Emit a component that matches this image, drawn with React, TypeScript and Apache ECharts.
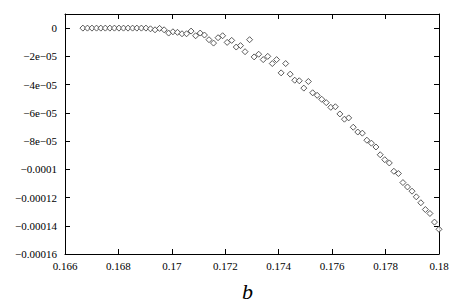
import React, { useEffect, useRef } from "react";
import * as echarts from "echarts";

const bValues: number[] = [
  0.16667, 0.16684, 0.16701, 0.16718, 0.16734, 0.16751, 0.16768, 0.16785, 0.16802, 0.16819,
  0.16836, 0.16853, 0.16869, 0.16886, 0.16903, 0.1692, 0.16937, 0.16954, 0.16971, 0.16988,
  0.17004, 0.17021, 0.17038, 0.17055, 0.17072, 0.17089, 0.17106, 0.17122, 0.17139, 0.17156,
  0.17173, 0.1719, 0.17207, 0.17224, 0.17241, 0.17257, 0.17274, 0.17291, 0.17308, 0.17325,
  0.17342, 0.17359, 0.17376, 0.17392, 0.17409, 0.17426, 0.17443, 0.1746, 0.17477, 0.17494,
  0.17511, 0.17527, 0.17544, 0.17561, 0.17578, 0.17595, 0.17612, 0.17629, 0.17646, 0.17662,
  0.17679, 0.17696, 0.17713, 0.1773, 0.17747, 0.17764, 0.1778, 0.17797, 0.17814, 0.17831,
  0.17848, 0.17865, 0.17882, 0.17899, 0.17915, 0.17932, 0.17949, 0.17966, 0.17983, 0.18,
];

// values in units of 1e-6
const yMicro: number[] = [
  0, 0, 0, 0, 0, 0, 0, 0, 0, 0,
  0, 0, 0, 0, 0, -0.5, -1.2, -0.2, -1.2, -3.5,
  -2.6, -3.0, -4.0, -4.0, -2.1, -5.4, -3.5, -4.9, -8.2, -10.6,
  -6.8, -5.4, -10.1, -8.7, -13.4, -12.4, -16.7, -8.2, -20.4, -18.5,
  -22.3, -20.0, -25.1, -22.3, -31.7, -25.1, -32.6, -36.9, -37.3, -42.5,
  -37.8, -45.8, -47.6, -50.4, -52.8, -56.1, -55.7, -60.8, -64.5, -63.6,
  -70.2, -73.6, -74.4, -79.4, -81.5, -84.2, -89.7, -93.2, -95.5, -101.4,
  -103.0, -109.4, -112.5, -115.5, -119.5, -123.7, -128.5, -131.3, -137.4, -142.5,
];

const xTickLabels: string[] = ["0.166", "0.168", "0.17", "0.172", "0.174", "0.176", "0.178", "0.18"];
const yTickLabels: string[] = [
  "−0.00016", "−0.00014", "−0.00012", "−0.0001", "−8e−05", "−6e−05", "−4e−05", "−2e−05", "0",
];

const X_MIN = 0.166;
const X_MAX = 0.18;
const X_STEP = 0.002;
const Y_MIN = -0.00016;
const Y_MAX = 0.00001;
const Y_STEP = 0.00002;

const FONT = "Liberation Serif";

export default function App() {
  const ref = useRef<HTMLDivElement>(null);

  useEffect(() => {
    if (!ref.current) return;
    const chart = echarts.init(ref.current, undefined, { renderer: "svg" });
    const data = bValues.map((b, i) => [b, yMicro[i] * 1e-6]);

    const xLabel = (v: number) => {
      const k = Math.round((v - X_MIN) / X_STEP);
      if (Math.abs(v - (X_MIN + k * X_STEP)) > 1e-9) return "";
      return xTickLabels[k] ?? "";
    };
    const yLabel = (v: number) => {
      const k = Math.round((v - Y_MIN) / Y_STEP);
      if (Math.abs(v - (Y_MIN + k * Y_STEP)) > 1e-9) return "";
      return yTickLabels[k] ?? "";
    };

    const axisLine = { show: true, onZero: false, lineStyle: { color: "#000", width: 1 } };
    const tick = { show: true, inside: true, length: 5, lineStyle: { color: "#000", width: 1 } };

    chart.setOption({
      animation: false,
      backgroundColor: "#fff",
      textStyle: { fontFamily: FONT },
      grid: { left: 65, right: 24, top: 14, bottom: 54, containLabel: false },
      xAxis: [
        {
          type: "value",
          min: X_MIN,
          max: X_MAX,
          interval: X_STEP,
          position: "bottom",
          axisLine,
          axisTick: tick,
          splitLine: { show: false },
          axisLabel: {
            formatter: xLabel,
            color: "#000",
            fontFamily: FONT,
            fontSize: 11,
            margin: 6,
          },
        },
        {
          type: "value",
          min: X_MIN,
          max: X_MAX,
          interval: X_STEP,
          position: "top",
          axisLine,
          axisTick: tick,
          splitLine: { show: false },
          axisLabel: { show: false },
        },
      ],
      yAxis: [
        {
          type: "value",
          min: Y_MIN,
          max: Y_MAX,
          interval: Y_STEP,
          position: "left",
          axisLine,
          axisTick: tick,
          splitLine: { show: false },
          axisLabel: {
            formatter: yLabel,
            showMaxLabel: false,
            color: "#000",
            fontFamily: FONT,
            fontSize: 11,
            margin: 8,
          },
        },
        {
          type: "value",
          min: Y_MIN,
          max: Y_MAX,
          interval: Y_STEP,
          position: "right",
          axisLine,
          axisTick: tick,
          splitLine: { show: false },
          axisLabel: { show: false },
        },
      ],
      series: [
        {
          type: "scatter",
          xAxisIndex: 0,
          yAxisIndex: 0,
          symbol: "diamond",
          symbolSize: 6,
          itemStyle: { color: "#fff", borderColor: "#333", borderWidth: 1 },
          data,
        },
      ],
      graphic: [
        {
          type: "text",
          left: 242,
          top: 280,
          style: {
            text: "b",
            fontFamily: FONT,
            fontStyle: "italic",
            fontSize: 22,
            fill: "#000",
          },
        },
      ],
    });

    return () => chart.dispose();
  }, []);

  return (
    <div
      ref={ref}
      style={{ position: "fixed", left: 0, top: 0, width: 463, height: 308, background: "#fff" }}
    />
  );
}
